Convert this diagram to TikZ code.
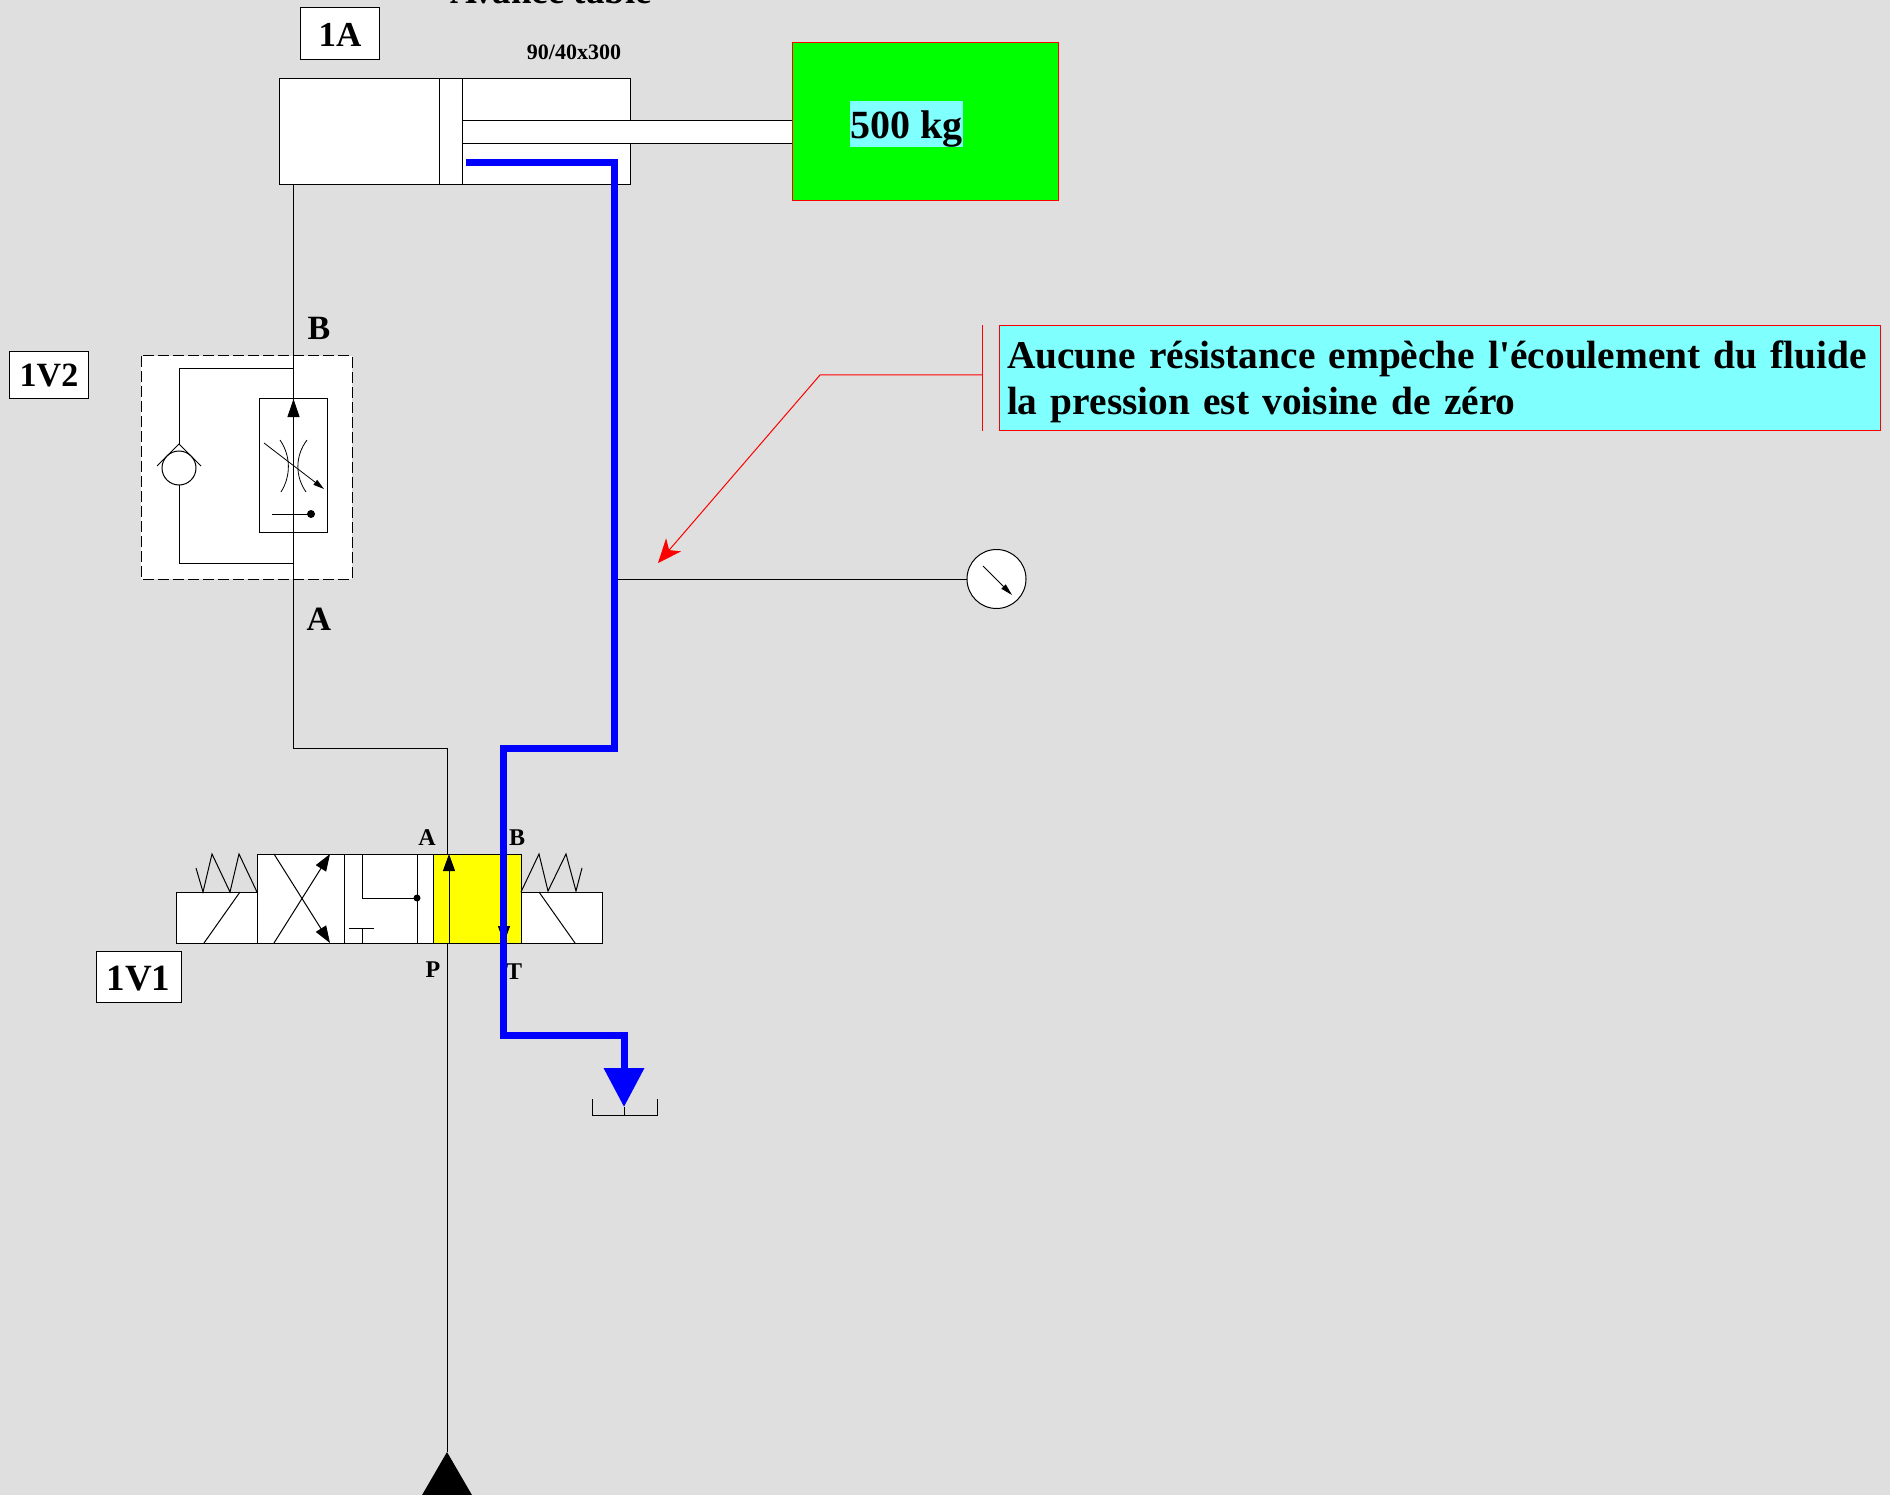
\documentclass[tikz,border=0pt]{standalone}
\usepackage{fontspec}
\setmainfont{Liberation Serif}
\newfontfamily\textenote{Liberation Serif}
\usepackage{xcolor}
\usetikzlibrary{arrows.meta}
\definecolor{fondgris}{HTML}{DFDFDF}
\definecolor{cyanclair}{HTML}{80FFFF}
\definecolor{jaune}{HTML}{FFFF00}
\tikzset{
  trait/.style={draw=black, line width=1pt},
  cellule/.style={draw=black, fill=white, line width=1pt},
  repere/.style={draw=black, fill=white, line width=1pt, inner xsep=0pt, inner ysep=0pt},
  port/.style={anchor=base, inner sep=0pt, font=\fontsize{34}{34}\selectfont\bfseries},
  petitport/.style={anchor=base, inner sep=0pt, font=\fontsize{24}{24}\selectfont\bfseries},
  fleche/.style={-{Triangle[length=17pt,width=12pt]}},
  flux/.style={draw=blue, line width=7pt, miter limit=10}
}
\begin{document}
\begin{tikzpicture}[x=1pt, y=-1pt]
\useasboundingbox (0, 0) rectangle (1890, 1495);
\fill [fondgris] (0, 0) rectangle (1890, 1495);
\clip (0, 0) rectangle (1890, 1495);

\node [port, font=\fontsize{37}{37}\selectfont\bfseries] (titre) at (551, 4) {Avance table};
\node [repere, minimum width=79pt, text height=39pt, text depth=13pt, font=\fontsize{35}{35}\selectfont\bfseries] (rep1A) at (340, 34) {1A};
\node [anchor=base, inner sep=0pt, font=\fontsize{22}{22}\selectfont\bfseries] (cote) at (574, 60) {90/40x300};

% verin et charge
\draw [cellule] (279, 79) rectangle (630, 185);
\draw [cellule] (462, 121) rectangle (792, 144);
\draw [cellule] (439, 79) rectangle (462, 185);
\node [draw=red, fill=green, line width=1pt, minimum width=266pt, minimum height=158pt, inner sep=0pt] (charge) at (925, 122) {};
\node [fill=cyanclair, inner xsep=0pt, inner ysep=0pt, minimum width=113pt, text height=38pt, text depth=8pt, font=\fontsize{40}{40}\selectfont\bfseries] (masse) at (906.5, 124) {500 kg};

% 1V2
\node [repere, minimum width=79pt, text height=35pt, text depth=12pt, font=\fontsize{34}{34}\selectfont\bfseries] (rep1V2) at (49, 375.5) {1V2};
\begin{scope}[shift={(142, 356)}]
\draw [cellule, dash pattern=on 11pt off 4pt] (-1, 0) rectangle (210, 223);
\draw [trait] (152, 13) -- (37, 13) -- (37, 88);
\draw [trait] (37, 129) -- (37, 207) -- (152, 207);
\draw [trait, fill=white] (37, 112) circle (17);
\draw [trait] (15, 110) -- (37, 88) -- (59, 110);
\draw [cellule] (117, 43) rectangle (185, 176);
\draw [line width=0.8pt] (138, 84) .. controls (149, 100) and (149, 120) .. (139, 136);
\draw [line width=0.8pt] (165, 84) .. controls (153, 100) and (153, 120) .. (164, 136);
\draw [line width=0.8pt, -{Triangle[length=11pt,width=6pt]}] (122, 87) -- (182, 133);
\draw [trait] (130, 158) -- (169, 158);
\fill (169, 158) circle (4);
\end{scope}
\node [port] (lblB) at (319, 340) {B};
\node [port] (lblA) at (319, 630) {A};

% distributeur 1V1
\node [repere, minimum width=85pt, text height=39pt, text depth=12pt, font=\fontsize{37}{37}\selectfont\bfseries] (rep1V1) at (138.5, 977) {1V1};
\begin{scope}[shift={(176, 854)}]
\draw [cellule] (0, 38) rectangle ++(81, 51);
\draw [trait] (28, 89) -- (64, 38);
\draw [trait] (20, 14) -- (27, 38) -- (36, 0) -- (54, 38) -- (63, 0) -- (81, 38);
\draw [cellule] (81, 0) rectangle ++(88, 89);
\draw [trait, fleche] (98, 0) -- (154, 89);
\draw [trait, fleche] (98, 89) -- (154, 0);
\draw [cellule] (168, 0) rectangle ++(89, 89);
\draw [trait] (186, 0) -- (186, 44) -- (241, 44);
\draw [trait] (241, 0) -- (241, 89);
\fill (241, 44) circle (3.5);
\draw [trait] (186, 89) -- (186, 74);
\draw [trait] (173, 74) -- (198, 74);
\draw [draw=black, fill=jaune, line width=1pt] (257, 0) rectangle ++(88, 89);
\draw [trait, fleche] (273, 89) -- (273, 0);
\draw [trait, fleche] (328, 0) -- (328, 89);
\draw [cellule] (345, 38) rectangle ++(81, 51);
\draw [trait] (363, 38) -- (399, 89);
\draw [trait] (345, 38) -- (363, 0) -- (372, 37) -- (390, 0) -- (400, 37) -- (406, 14);
\end{scope}
\node [petitport] (lblA2) at (427, 845) {A};
\node [petitport] (lblB2) at (517, 845) {B};
\node [petitport] (lblP) at (433, 977) {P};
\node [petitport] (lblT) at (514, 979) {T};

% liaisons
\coordinate (sortieVerin) at (293.5, 185);
\coordinate (coude) at (293.5, 748);
\coordinate (coudeP) at (447, 748);
\coordinate (entreeA) at (447, 854);
\coordinate (entreeP) at (447, 943);
\coordinate (pompe) at (447, 1452);
\draw [trait] (sortieVerin) -- (coude) -- (coudeP) -- (entreeA);
\draw [trait] (entreeP) -- (pompe);
\fill (pompe) -- (476, 1502) -- (418, 1502) -- cycle;
\draw [-{Triangle[length=18pt,width=12pt]}, trait] (293.5, 532) -- (293.5, 399);

% manometre
\coordinate (piquage) at (617, 579);
\node [draw=black, fill=white, line width=1pt, circle, minimum size=59pt, inner sep=0pt] (mano) at (996.5, 579) {};
\draw [trait] (piquage) -- (mano);
\draw [line width=0.8pt, -{Triangle[length=12pt,width=6pt]}] (983, 566) -- (1012, 595);

% circuit de retour
\coordinate (depart) at (466, 163);
\coordinate (bac) at (624, 1107);
\draw [flux, -{Triangle[length=39pt,width=39pt]}] (depart) -- (614, 163) -- (614, 748) -- (503.5, 748) -- (503.5, 1035) -- (624, 1035) -- (bac);
\draw [trait] (592, 1099) -- (592, 1115) -- (657, 1115) -- (657, 1099);
\draw [trait] (bac) -- (624, 1115);

% note
\node [draw=red, fill=cyanclair, line width=1pt, minimum width=881pt, minimum height=105pt, inner sep=0pt] (note) at (1440, 378) {};
\node [inner sep=0pt, text width=866pt, align=left, font=\textenote\fontsize{39.4}{46}\selectfont\bfseries] (noteTexte) at (1440, 382) {Aucune résistance empèche l'écoulement du fluide\\la pression est voisine de zéro};
\coordinate (barreHaut) at (982, 325);
\coordinate (barreBas) at (982, 431);
\coordinate (barreMil) at (982, 375);
\coordinate (renvoi) at (820, 375);
\coordinate (cible) at (658, 563);
\draw [red, line width=1pt] (barreHaut) -- (barreBas);
\draw [red, line width=1pt, -{Stealth[length=24pt,width=20pt,inset=7pt]}] (barreMil) -- (renvoi) -- (cible);
\end{tikzpicture}
\end{document}
